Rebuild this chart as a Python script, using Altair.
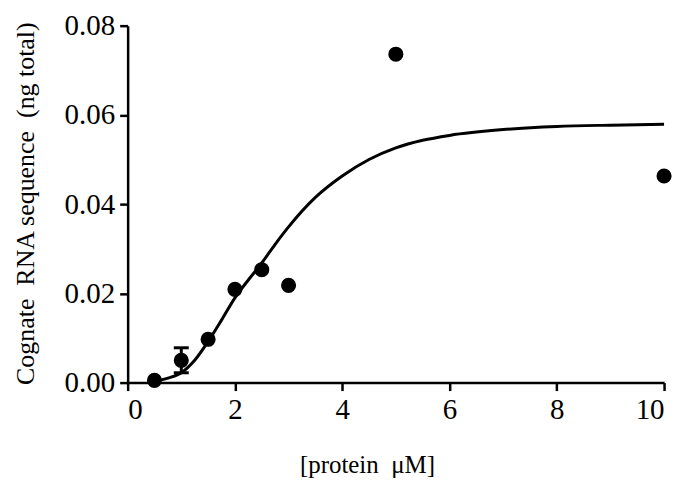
import altair as alt
import pandas as pd

# measured data points
conc = [0.5, 1.0, 1.5, 2.0, 2.5, 3.0, 5.0, 10.0]
rna = [0.0005, 0.0050, 0.0097, 0.0209, 0.0253, 0.0218, 0.0736, 0.0463]
err = [0.0, 0.0028, 0.0, 0.0, 0.0, 0.0, 0.0, 0.0]

# fitted curve
fit_x = [0.5, 0.75, 1.0, 1.25, 1.5, 1.75, 2.0, 2.25, 2.5, 2.75, 3.0, 3.5, 4.0, 4.5, 5.0, 5.5, 6.0, 7.0, 8.0, 9.0, 10.0]
fit_y = [0.0003, 0.0010, 0.0022, 0.0050, 0.0092, 0.0140, 0.0190, 0.0230, 0.0268, 0.0310, 0.0349, 0.0415, 0.0463, 0.0500, 0.0526, 0.0543, 0.0554, 0.0567, 0.0574, 0.0577, 0.0579]

x_ticks = [0, 2, 4, 6, 8, 10]
y_ticks = [0, 0.02, 0.04, 0.06, 0.08]
x_title = "[protein\u00a0\u00a0\u03bcM]"
y_title = "Cognate\u00a0\u00a0RNA sequence\u00a0\u00a0(ng total)"

pts = pd.DataFrame({"x": conc, "y": rna, "lo": [a - b for a, b in zip(rna, err)], "hi": [a + b for a, b in zip(rna, err)], "e": err})
fit = pd.DataFrame({"x": fit_x, "y": fit_y})

FONT = "Liberation Serif"

xs = alt.Scale(domain=[0, 10], nice=False)
ys = alt.Scale(domain=[0, 0.08], nice=False)

x_axis = alt.Axis(values=x_ticks, format="d", title=x_title,
                  titleFontSize=25, titleX=240, titleY=70, titleBaseline="top", titleAlign="center",
                  labelFontSize=29, labelPadding=5)
y_axis = alt.Axis(values=y_ticks, format=".2f", title=y_title,
                  titleFontSize=26, titleX=-102, titleY=178, titleBaseline="middle", titleAlign="center",
                  titleAngle=270, labelFontSize=29, labelPadding=5)

line = alt.Chart(fit).mark_line(color="black", strokeWidth=3, interpolate="monotone").encode(
    x=alt.X("x:Q", scale=xs, axis=x_axis),
    y=alt.Y("y:Q", scale=ys, axis=y_axis),
)

ebars = alt.Chart(pts).transform_filter("datum.e > 0").mark_rule(color="black", strokeWidth=3).encode(
    x="x:Q", y="lo:Q", y2="hi:Q"
)
cap_hi = alt.Chart(pts).transform_filter("datum.e > 0").mark_tick(
    color="black", orient="horizontal", size=15, thickness=3, opacity=1).encode(x="x:Q", y="hi:Q")
cap_lo = alt.Chart(pts).transform_filter("datum.e > 0").mark_tick(
    color="black", orient="horizontal", size=15, thickness=3, opacity=1).encode(x="x:Q", y="lo:Q")

dots = alt.Chart(pts).mark_circle(color="black", opacity=1, size=230).encode(
    x="x:Q", y="y:Q"
)

chart = alt.layer(ebars, cap_hi, cap_lo, line, dots).properties(
    width=538, height=358,
    autosize=alt.AutoSizeParams(type="none"),
    padding={"left": 120, "top": 17, "right": 18, "bottom": 97},
).configure_view(stroke=None).configure_axis(
    grid=False, domainColor="black", domainWidth=2.5, tickColor="black", tickWidth=2.5,
    tickSize=8, labelColor="black", titleColor="black", labelFont=FONT, titleFont=FONT,
    titleFontWeight="normal",
)

chart.save("out.html", embed_options={"renderer": "svg", "actions": False})
